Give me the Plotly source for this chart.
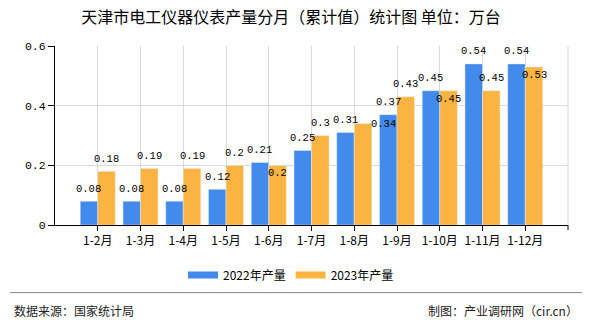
import plotly.graph_objects as go

# ---- data ----
months = ["1-2月", "1-3月", "1-4月", "1-5月", "1-6月", "1-7月", "1-8月", "1-9月", "1-10月", "1-11月", "1-12月"]
y2022 = [0.08, 0.08, 0.08, 0.12, 0.21, 0.25, 0.31, 0.37, 0.45, 0.54, 0.54]
y2023 = [0.18, 0.19, 0.19, 0.20, 0.20, 0.30, 0.34, 0.43, 0.45, 0.45, 0.53]
series_names = ["2022年产量", "2023年产量"]
title_text = "天津市电工仪器仪表产量分月（累计值）统计图 单位：万台"
source_text = "数据来源：国家统计局"
credit_text = "制图：产业调研网（cir.cn）"

# ---- style ----
W, H = 590, 330
ML, MR, MT, MB = 55, 22, 46, 101
PW, PH = W - ML - MR, H - MT - MB
BLUE = "#428BEC"
ORANGE = "#FBB342"
GRID = "#d9d9d9"
BARGAP = 0.18
# label offsets in px (dx, dy up positive)
off2022 = [(0, 12.5)] * len(months)
off2023 = [(0, 12), (0, 12.5), (0, 12.5), (0, 12.5), (0, -8), (0, 12.5),
           (20, 0), (0, 12.5), (0, -8), (0, 12.5), (0, -8.5)]


def px_x(x):
    return (x - ML) / PW


def px_y(y):
    return (H - MB - y) / PH


xs = list(range(len(months)))
bw = (1 - BARGAP) / 2

fig = go.Figure()
fig.add_trace(go.Bar(x=xs, y=y2022, marker_color=BLUE, showlegend=False, hoverinfo="skip"))
fig.add_trace(go.Bar(x=xs, y=y2023, marker_color=ORANGE, showlegend=False, hoverinfo="skip"))
# legend proxies
for name, col in zip(series_names, [BLUE, ORANGE]):
    fig.add_trace(go.Scatter(x=[None], y=[None], mode="lines", name=name,
                             line=dict(color=col, width=7)))

annotations = []
label_font = dict(family="Liberation Mono", size=10.5, color="#000")
for vals, offs, sgn in [(y2022, off2022, -1), (y2023, off2023, 1)]:
    for i, (v, (dx, dy)) in enumerate(zip(vals, offs)):
        annotations.append(dict(
            x=i + sgn * bw / 2, y=v, xref="x", yref="y", text=f"{v:g}",
            showarrow=False, xanchor="center", yanchor="middle",
            xshift=dx, yshift=dy, font=label_font))

annotations.append(dict(x=px_x(12), y=px_y(316), xref="paper", yref="paper",
                        text=source_text, showarrow=False, xanchor="left", yanchor="middle",
                        font=dict(family="Noto Sans CJK SC", size=12, color="#222")))
annotations.append(dict(x=px_x(580), y=px_y(316), xref="paper", yref="paper",
                        text=credit_text, showarrow=False, xanchor="right", yanchor="middle",
                        font=dict(family="Noto Sans CJK SC", size=12, color="#222")))

shapes = [
    dict(type="line", xref="paper", yref="paper", x0=1, x1=1, y0=0, y1=1,
         line=dict(color=GRID, width=1)),
    dict(type="line", xref="paper", yref="paper", x0=1, x1=1, y0=0, y1=px_y(H - MB + 5),
         line=dict(color="#000", width=1)),
    dict(type="line", xref="paper", yref="paper", x0=px_x(10), x1=px_x(582),
         y0=px_y(298), y1=px_y(298), line=dict(color="#888", width=1)),
]

fig.update_layout(
    width=W, height=H,
    margin=dict(l=ML, r=MR, t=MT, b=MB),
    paper_bgcolor="white", plot_bgcolor="white",
    barmode="group", bargap=BARGAP, bargroupgap=0,
    title=dict(text=title_text, xref="container", yref="container",
               x=291 / W, y=1 - 17 / H, xanchor="center", yanchor="middle",
               font=dict(family="Noto Sans CJK SC", size=16, color="#000")),
    legend=dict(orientation="h", xref="container", yref="container",
                x=291 / W, y=1 - 275 / H, xanchor="center", yanchor="middle",
                font=dict(family="Noto Sans CJK SC", size=12, color="#000"),
                itemwidth=30, tracegroupgap=0),
    xaxis=dict(range=[-1, len(months)], tickmode="array", tickvals=xs, ticktext=months,
               showgrid=True, gridcolor=GRID, gridwidth=1,
               showline=True, linecolor="#000", linewidth=1,
               ticks="outside", ticklen=5, tickcolor="#000",
               tickfont=dict(family="Noto Sans CJK SC", size=12, color="#000"),
               zeroline=False, fixedrange=True),
    yaxis=dict(range=[0, 0.6], dtick=0.2, tick0=0,
               showgrid=True, gridcolor=GRID, gridwidth=1,
               showline=True, linecolor="#000", linewidth=1,
               ticks="outside", ticklen=6, tickcolor="#000",
               tickfont=dict(family="Liberation Mono", size=11.5, color="#000"),
               zeroline=False, fixedrange=True),
    annotations=annotations,
    shapes=shapes,
)

fig.write_html("out.html")
